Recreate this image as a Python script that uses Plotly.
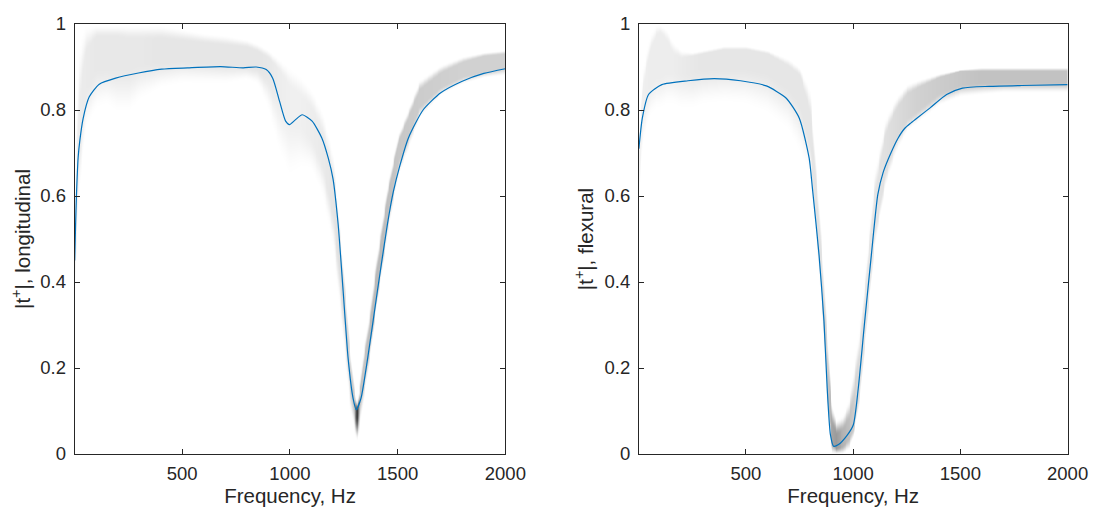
import numpy as np
import plotly.graph_objects as go

# ---------------- data ----------------
# Left panel: longitudinal, blue curve
long_f = [1, 5, 9, 17, 25, 40, 68, 115, 191, 297, 405, 525, 678, 783, 843, 890, 920, 952, 980,
          998, 1025, 1057, 1103, 1148, 1178, 1200, 1224, 1247, 1270, 1293, 1308, 1330, 1361, 1406,
          1452, 1480, 1510, 1550, 1618, 1700, 1800, 1900, 2000]
long_t = [0.45, 0.53, 0.60, 0.69, 0.73, 0.78, 0.83, 0.86, 0.874, 0.886, 0.895, 0.898, 0.901, 0.898,
          0.900, 0.894, 0.874, 0.82, 0.774, 0.766, 0.777, 0.789, 0.774, 0.735, 0.688, 0.64, 0.533,
          0.379, 0.223, 0.13, 0.103, 0.13, 0.223, 0.379, 0.533, 0.61, 0.67, 0.735, 0.80, 0.84,
          0.867, 0.885, 0.896]

# Left panel: spread of the sampled curves (grey density)
long_band_f = [1, 20, 50, 100, 150, 200, 250, 300, 400, 500, 600, 700, 800, 850, 900, 950, 1000,
               1050, 1100, 1150, 1200, 1250, 1280, 1300, 1310, 1320, 1340, 1370, 1400, 1450, 1500,
               1600, 1700, 1800, 1900, 2000]
long_outer_hi = [0.62, 0.95, 1.0, 1.0, 1.0, 1.0, 1.0, 1.0, 1.0, 0.99, 0.98, 0.975, 0.965, 0.955,
                 0.94, 0.92, 0.90, 0.88, 0.85, 0.80, 0.70, 0.42, 0.24, 0.15, 0.12, 0.15, 0.24,
                 0.34, 0.46, 0.62, 0.74, 0.87, 0.905, 0.925, 0.935, 0.94]
long_outer_lo = [0.40, 0.60, 0.75, 0.80, 0.81, 0.79, 0.79, 0.82, 0.85, 0.86, 0.86, 0.86, 0.87,
                 0.86, 0.80, 0.70, 0.64, 0.66, 0.66, 0.60, 0.48, 0.24, 0.10, 0.05, 0.03, 0.05,
                 0.12, 0.22, 0.34, 0.50, 0.64, 0.78, 0.835, 0.86, 0.875, 0.88]
long_core_hi = [0.55, 0.80, 0.93, 0.97, 0.97, 0.97, 0.965, 0.965, 0.965, 0.96, 0.955, 0.95, 0.945,
                0.935, 0.92, 0.89, 0.85, 0.83, 0.80, 0.74, 0.63, 0.38, 0.20, 0.115, 0.10, 0.13,
                0.21, 0.30, 0.42, 0.59, 0.72, 0.845, 0.885, 0.91, 0.925, 0.93]
long_core_lo = [0.45, 0.70, 0.85, 0.90, 0.90, 0.90, 0.90, 0.91, 0.915, 0.92, 0.915, 0.91, 0.905,
                0.90, 0.88, 0.83, 0.78, 0.77, 0.74, 0.68, 0.56, 0.33, 0.16, 0.095, 0.088, 0.11,
                0.17, 0.26, 0.37, 0.55, 0.68, 0.81, 0.855, 0.88, 0.89, 0.90]
long_darkness = [0.05, 0.07, 0.08, 0.09, 0.09, 0.09, 0.09, 0.09, 0.10, 0.10, 0.10, 0.10, 0.10,
                 0.10, 0.09, 0.07, 0.06, 0.06, 0.07, 0.08, 0.10, 0.14, 0.18, 0.25, 0.85, 0.25,
                 0.22, 0.26, 0.27, 0.25, 0.22, 0.20, 0.19, 0.18, 0.18, 0.18]

# Right panel: flexural, blue curve
flex_f = [1, 17, 46, 108, 230, 352, 475, 595, 687, 749, 795, 810, 841, 864, 879, 894, 909, 932,
          970, 1001, 1024, 1054, 1085, 1115, 1140, 1176, 1210, 1240, 1270, 1300, 1359, 1436, 1510,
          1634, 1785, 2000]
flex_t = [0.71, 0.781, 0.836, 0.859, 0.868, 0.873, 0.868, 0.856, 0.828, 0.781, 0.688, 0.619,
          0.463, 0.309, 0.153, 0.045, 0.018, 0.022, 0.042, 0.068, 0.153, 0.309, 0.463, 0.603,
          0.655, 0.70, 0.735, 0.757, 0.770, 0.782, 0.805, 0.836, 0.851, 0.855, 0.857, 0.859]

flex_band_f = [1, 20, 50, 80, 100, 130, 160, 200, 250, 300, 400, 500, 600, 700, 750, 800, 850,
               880, 900, 920, 950, 980, 1000, 1030, 1060, 1100, 1150, 1200, 1250, 1300, 1400,
               1500, 1600, 1700, 1800, 2000]
flex_outer_hi = [0.75, 0.90, 0.97, 1.0, 1.0, 0.99, 0.96, 0.94, 0.935, 0.94, 0.95, 0.95, 0.94,
                 0.92, 0.90, 0.85, 0.52, 0.28, 0.12, 0.08, 0.09, 0.13, 0.20, 0.30, 0.45, 0.66,
                 0.78, 0.83, 0.86, 0.87, 0.885, 0.895, 0.90, 0.90, 0.90, 0.90]
flex_outer_lo = [0.60, 0.72, 0.78, 0.80, 0.80, 0.81, 0.81, 0.80, 0.80, 0.81, 0.815, 0.81, 0.79,
                 0.75, 0.70, 0.65, 0.36, 0.10, 0.0, 0.0, 0.0, 0.01, 0.04, 0.12, 0.28, 0.48,
                 0.62, 0.70, 0.75, 0.77, 0.81, 0.83, 0.835, 0.84, 0.84, 0.84]
flex_core_hi = [0.72, 0.85, 0.93, 0.97, 0.98, 0.96, 0.93, 0.92, 0.925, 0.93, 0.94, 0.94, 0.93,
                0.90, 0.88, 0.78, 0.45, 0.20, 0.07, 0.045, 0.055, 0.08, 0.12, 0.24, 0.40, 0.60,
                0.74, 0.80, 0.835, 0.85, 0.875, 0.89, 0.89, 0.89, 0.89, 0.89]
flex_core_lo = [0.68, 0.80, 0.86, 0.88, 0.88, 0.89, 0.89, 0.89, 0.89, 0.90, 0.905, 0.905, 0.895,
                0.86, 0.83, 0.72, 0.40, 0.14, 0.03, 0.015, 0.02, 0.04, 0.06, 0.16, 0.31, 0.52,
                0.66, 0.74, 0.78, 0.80, 0.84, 0.86, 0.865, 0.865, 0.865, 0.865]
flex_darkness = [0.05, 0.06, 0.07, 0.07, 0.07, 0.07, 0.07, 0.08, 0.09, 0.10, 0.10, 0.10, 0.10,
                 0.10, 0.10, 0.10, 0.12, 0.20, 0.35, 0.40, 0.30, 0.25, 0.20, 0.12, 0.10, 0.10,
                 0.12, 0.14, 0.16, 0.18, 0.20, 0.22, 0.24, 0.24, 0.24, 0.24]

x_ticks = [500, 1000, 1500, 2000]
y_ticks = [0, 0.2, 0.4, 0.6, 0.8, 1]
y_tick_text = ["0", "0.2", "0.4", "0.6", "0.8", "1"]
x_title = "Frequency, Hz"
y_titles = ["|t<sup>+</sup>|, longitudinal", "|t<sup>+</sup>|, flexural"]

# ---------------- figure ----------------
fig = go.Figure()
AX = "#262626"
BLUE = "#0072BD"
GRID_F = np.linspace(1, 2000, 520)
GRID_Y = np.linspace(0, 1, 430)


def density(f, olo, ohi, clo, chi, dark):
    """Grey-level image of the sampled-curve spread built from the read envelopes."""
    def at(a):
        return np.interp(GRID_F, f, a)
    olo, ohi, clo, chi, dk = at(olo), at(ohi), at(clo), at(chi), at(dark)
    Y = GRID_Y[:, None]
    eps = 1e-4
    up = (Y - olo) / np.maximum(clo - olo, eps)
    dn = (ohi - Y) / np.maximum(ohi - chi, eps)
    s = np.clip(np.minimum(up, dn), 0, 1)
    prof = s * s * (3 - 2 * s)
    return dk * prof


def add_density(z, xa, ya):
    fig.add_trace(go.Heatmap(
        x=GRID_F, y=GRID_Y, z=z, zmin=0, zmax=1, zsmooth="best",
        colorscale=[[0, "#ffffff"], [1, "#000000"]], showscale=False,
        hoverinfo="skip", xaxis=xa, yaxis=ya))


add_density(density(long_band_f, long_outer_lo, long_outer_hi, long_core_lo, long_core_hi,
                    long_darkness), "x", "y")
add_density(density(flex_band_f, flex_outer_lo, flex_outer_hi, flex_core_lo, flex_core_hi,
                    flex_darkness), "x2", "y2")

fig.add_trace(go.Scatter(x=long_f, y=long_t, mode="lines",
                         line=dict(color=BLUE, width=1.2, shape="spline", smoothing=0.6),
                         showlegend=False, xaxis="x", yaxis="y"))
fig.add_trace(go.Scatter(x=flex_f, y=flex_t, mode="lines",
                         line=dict(color=BLUE, width=1.2, shape="spline", smoothing=0.6),
                         showlegend=False, xaxis="x2", yaxis="y2"))

FONT = "Liberation Sans, Arial, Helvetica, sans-serif"
TICK_FONT = dict(size=18.5, color=AX, family=FONT)
TITLE_FONT = dict(size=20.5, color=AX, family=FONT)
common_x = dict(range=[1, 2000], tickvals=x_ticks, ticks="inside", ticklen=5, tickcolor=AX,
                showline=True, linecolor=AX, linewidth=1, mirror="ticks", showgrid=False,
                zeroline=False, tickfont=TICK_FONT, ticklabelstandoff=3,
                title=dict(text=x_title, font=TITLE_FONT, standoff=3))
common_y = dict(range=[0, 1], tickvals=y_ticks, ticktext=y_tick_text,
                ticks="inside", ticklen=5, tickcolor=AX, ticklabelstandoff=4,
                showline=True, linecolor=AX, linewidth=1, mirror="ticks", showgrid=False,
                zeroline=False, tickfont=TICK_FONT)

fig.update_layout(
    width=1111, height=507,
    margin=dict(l=0, r=0, t=16, b=61),
    paper_bgcolor="white", plot_bgcolor="white",
    font=dict(family=FONT, color=AX),
    xaxis=dict(domain=[0.0612, 0.4563], anchor="y", **common_x),
    xaxis2=dict(domain=[0.5788, 0.9721], anchor="y2", **common_x),
    yaxis=dict(domain=[0, 1], anchor="x",
               title=dict(text=y_titles[0], font=TITLE_FONT, standoff=5), **common_y),
    yaxis2=dict(domain=[0, 1], anchor="x2",
                title=dict(text=y_titles[1], font=TITLE_FONT, standoff=5), **common_y),
)

fig.write_html("out.html")
